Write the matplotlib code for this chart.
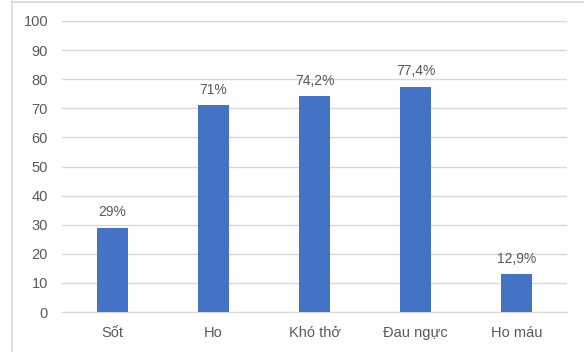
import matplotlib
matplotlib.use("Agg")
import matplotlib.pyplot as plt

categories = ["Sốt", "Ho", "Khó thở", "Đau ngực", "Ho máu"]
values = [29, 71, 74.2, 77.4, 12.9]
labels = ["29%", "71%", "74,2%", "77,4%", "12,9%"]
yticks = list(range(0, 101, 10))

plt.rcParams['font.family'] = ['Liberation Sans', 'DejaVu Sans']

W, H = 584, 352
fig = plt.figure(figsize=(W / 100, H / 100), dpi=100)
fig.patch.set_facecolor("white")

# chart border (only top and left visible)
fig.add_artist(plt.Line2D([12 / W, 12 / W], [0, 1 - 1 / H], transform=fig.transFigure,
                          color="#d9d9d9", lw=1.2))
fig.add_artist(plt.Line2D([12 / W, 1], [1 - 1.5 / H, 1 - 1.5 / H], transform=fig.transFigure,
                          color="#d9d9d9", lw=1.2))

left, right = 62 / W, 567 / W
bottom, top = 1 - 312 / H, 1 - 21 / H
ax = fig.add_axes([left, bottom, right - left, top - bottom])

x = range(len(categories))
bars = ax.bar(x, values, width=0.31, color="#4472C4", zorder=3)
for xi, v, lab in zip(x, values, labels):
    ax.annotate(lab, (xi, v), xytext=(0, 6), textcoords="offset points",
                ha="center", va="bottom", fontsize=10, color="#595959")

ax.set_xlim(-0.5, len(categories) - 0.5)
ax.set_ylim(0, 100)
ax.set_yticks(yticks)
ax.set_xticks(list(x))
ax.set_xticklabels(categories)
ax.yaxis.grid(True, color="#d9d9d9", lw=1.0, zorder=0)
ax.set_axisbelow(True)
for s in ["top", "right", "left"]:
    ax.spines[s].set_visible(False)
ax.spines["bottom"].set_color("#d9d9d9")
ax.tick_params(axis="both", length=0, labelsize=10.5, colors="#595959")
ax.tick_params(axis="y", pad=10)
ax.tick_params(axis="x", pad=10)

fig.savefig("out.png", dpi=100)
